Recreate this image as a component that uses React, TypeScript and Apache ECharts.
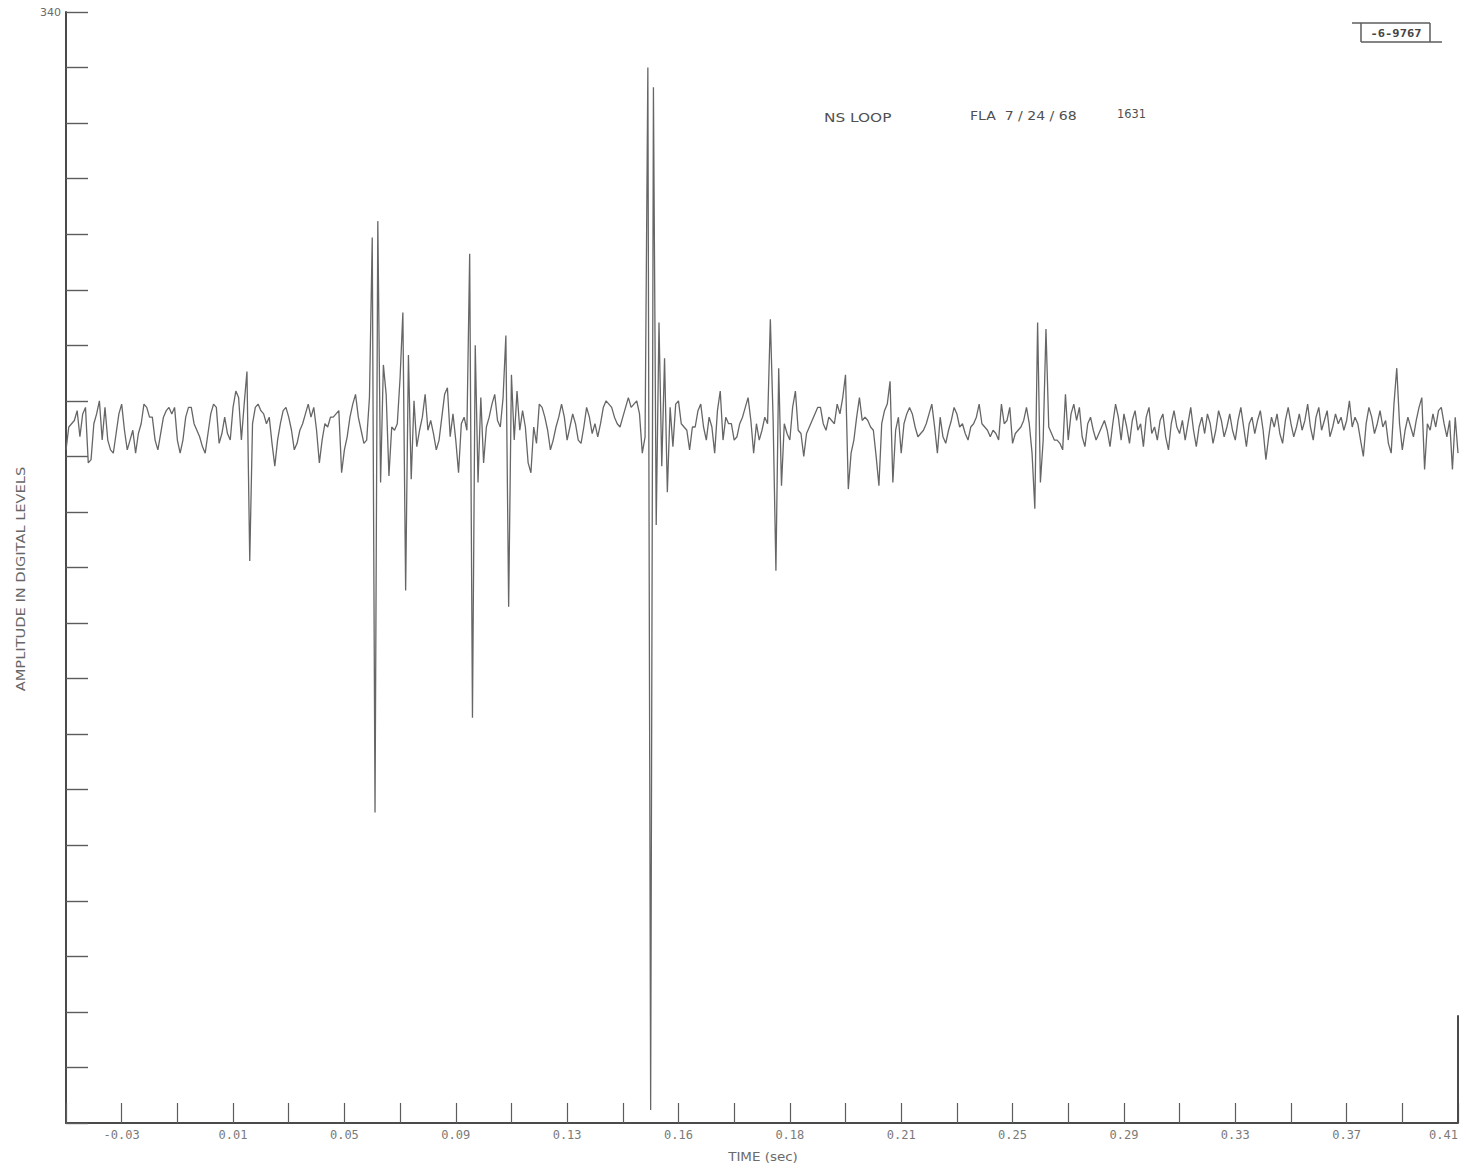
import { useEffect, useRef } from "react";
import * as echarts from "echarts";

const samplesPerTick = 20;
const tickIntervals = 25;

// Printed time labels, one on every other x tick starting at tick 1.
const xTickLabels = [
  "-0.03", "0.01", "0.05", "0.09", "0.13", "0.16", "0.18",
  "0.21", "0.25", "0.29", "0.33", "0.37", "0.41",
];

// Amplitude scale in digital levels.
const yMin = 0;
const yMax = 340;
const yStep = 17;

// Amplitude in digital levels, one row per tick interval.
const amplitude = [
  206, 213, 214, 215, 218, 210, 217, 219, 202, 203, 214, 217, 221, 209, 219, 209, 206, 205, 211, 217,
  220, 212, 206, 209, 212, 205, 211, 214, 220, 219, 216, 216, 209, 206, 211, 216, 218, 219, 217, 219,
  209, 205, 209, 216, 219, 219, 214, 212, 210, 207, 205, 211, 217, 220, 219, 208, 211, 216, 211, 209,
  219, 224, 222, 209, 220, 230, 172, 214, 219, 220, 218, 217, 214, 216, 208, 201, 209, 214, 218, 219,
  216, 212, 206, 208, 212, 214, 217, 220, 216, 219, 212, 202, 209, 214, 213, 216, 216, 217, 218, 199,
  206, 210, 216, 220, 223, 216, 212, 208, 209, 222, 271, 95, 276, 196, 232, 223, 198, 213, 212, 214,
  228, 248, 163, 235, 197, 221, 207, 212, 216, 223, 212, 215, 211, 206, 209, 216, 223, 225, 210, 217,
  209, 199, 214, 216, 212, 266, 124, 238, 196, 222, 202, 213, 216, 220, 223, 215, 213, 222, 241, 158,
  229, 209, 224, 212, 218, 213, 202, 199, 213, 208, 220, 219, 216, 212, 206, 209, 213, 216, 220, 216,
  209, 213, 217, 214, 209, 208, 213, 219, 216, 211, 214, 210, 214, 219, 221, 220, 219, 216, 214, 213,
  216, 219, 222, 219, 220, 221, 217, 205, 210, 323, 4, 317, 183, 245, 201, 234, 193, 219, 207, 220,
  221, 214, 213, 212, 206, 213, 213, 218, 220, 213, 209, 216, 213, 205, 218, 224, 209, 216, 214, 214,
  209, 210, 214, 216, 219, 222, 215, 205, 214, 209, 212, 216, 214, 246, 215, 169, 231, 195, 214, 211,
  209, 219, 224, 212, 211, 204, 211, 213, 215, 217, 219, 219, 214, 212, 216, 215, 214, 220, 217, 222,
  229, 194, 205, 209, 216, 222, 215, 216, 215, 213, 212, 204, 195, 214, 218, 220, 227, 196, 212, 216,
  205, 214, 217, 219, 217, 213, 210, 211, 212, 214, 217, 220, 213, 205, 216, 210, 208, 212, 215, 219,
  217, 213, 214, 211, 209, 213, 214, 216, 220, 214, 213, 212, 210, 212, 211, 209, 220, 214, 215, 219,
  208, 211, 212, 213, 215, 219, 214, 205, 188, 245, 196, 209, 243, 213, 211, 209, 209, 208, 206, 223,
  209, 217, 220, 215, 219, 210, 207, 214, 216, 212, 209, 211, 213, 215, 212, 207, 214, 220, 216, 209,
  217, 213, 208, 215, 218, 212, 214, 207, 216, 219, 211, 213, 209, 215, 217, 210, 206, 214, 218, 213,
  211, 215, 209, 214, 219, 212, 207, 213, 216, 211, 217, 214, 208, 212, 218, 215, 210, 213, 217, 212,
  209, 215, 219, 213, 207, 214, 216, 211, 215, 218, 212, 203, 210, 216, 213, 217, 211, 208, 215, 219,
  214, 210, 213, 217, 212, 215, 220, 213, 209, 216, 219, 212, 215, 218, 210, 213, 217, 214, 216, 212,
  215, 221, 213, 216, 214, 209, 204, 214, 219, 216, 211, 214, 218, 213, 215, 208, 205, 220, 231, 214,
  206, 212, 216, 213, 210, 215, 219, 222, 200, 214, 212, 217, 213, 218, 219, 214, 210, 215, 200, 216,
  205,
];

// End-of-record stub drawn at the last sample, height in digital levels.
const endStubLevels = 33;

const inkDark = "#4a4a4a";
const inkMid = "#5c5c5c";
const inkLight = "#7a7a7a";

export default function App() {
  const ref = useRef<HTMLDivElement>(null);

  useEffect(() => {
    if (!ref.current) return;
    const chart = echarts.init(ref.current, null, { renderer: "svg" });
    const lastSample = samplesPerTick * tickIntervals;
    const data = amplitude.map((v, i) => [i, v]);

    chart.setOption({
      animation: false,
      backgroundColor: "#ffffff",
      grid: {
        left: 66,
        right: 7,
        top: 12,
        bottom: 45,
        containLabel: false,
        outerBoundsMode: "none",
      },
      xAxis: {
        type: "value",
        min: 0,
        max: lastSample,
        interval: samplesPerTick,
        axisLine: { show: true, onZero: false, lineStyle: { color: inkDark, width: 2 } },
        axisTick: { show: true, inside: true, length: 20, lineStyle: { color: inkMid, width: 1.2 } },
        axisLabel: {
          show: true,
          margin: 6,
          color: inkLight,
          fontFamily: "DejaVu Sans Mono",
          fontSize: 12,
          showMinLabel: true,
          showMaxLabel: true,
          alignMaxLabel: "right",
          hideOverlap: false,
          formatter: (value: number) => {
            const t = Math.round(value / samplesPerTick);
            return t % 2 === 1 ? xTickLabels[(t - 1) / 2] ?? "" : "";
          },
        },
        splitLine: { show: false },
      },
      yAxis: {
        type: "value",
        min: yMin,
        max: yMax,
        interval: yStep,
        axisLine: { show: true, onZero: false, lineStyle: { color: inkDark, width: 2 } },
        axisTick: { show: true, inside: true, length: 22, lineStyle: { color: inkMid, width: 1.4 } },
        axisLabel: {
          show: true,
          margin: 5,
          color: "#6b6b6b",
          fontFamily: "DejaVu Sans",
          fontSize: 11,
          showMaxLabel: true,
          padding: [6, 0, 0, 0],
          formatter: (value: number) => (value === yMax ? String(yMax) : ""),
        },
        splitLine: { show: false },
      },
      series: [
        {
          type: "line",
          data,
          symbol: "none",
          showSymbol: false,
          smooth: false,
          lineStyle: { color: "#666666", width: 1.3 },
          markLine: {
            silent: true,
            symbol: "none",
            label: { show: false },
            lineStyle: { color: inkDark, width: 2, type: "solid" },
            data: [[{ coord: [lastSample, yMin] }, { coord: [lastSample, endStubLevels] }]],
          },
        },
      ],
      graphic: [
        {
          type: "text",
          x: 824,
          y: 117,
          style: {
            text: "NS LOOP",
            font: '13px "DejaVu Sans"',
            fill: "#505050",
            align: "left",
            verticalAlign: "middle",
            textAlign: "left",
            textVerticalAlign: "middle",
          },
          scaleX: 1.18,
        },
        {
          type: "text",
          x: 970,
          y: 115,
          style: {
            text: "FLA  7 / 24 / 68",
            font: '13px "DejaVu Sans"',
            fill: "#505050",
            align: "left",
            verticalAlign: "middle",
            textAlign: "left",
            textVerticalAlign: "middle",
          },
          scaleX: 1.08,
        },
        {
          type: "text",
          x: 1117,
          y: 114,
          style: {
            text: "1631",
            font: '12px "DejaVu Sans"',
            fill: "#505050",
            align: "left",
            verticalAlign: "middle",
            textAlign: "left",
            textVerticalAlign: "middle",
          },
          scaleX: 0.95,
        },
        {
          type: "text",
          x: 21,
          y: 579,
          rotation: Math.PI / 2,
          scaleX: 1.22,
          style: {
            text: "AMPLITUDE IN DIGITAL LEVELS",
            font: '12px "DejaVu Sans"',
            fill: "#666666",
            align: "center",
            verticalAlign: "middle",
            textAlign: "center",
            textVerticalAlign: "middle",
          },
        },
        {
          type: "text",
          x: 763,
          y: 1157,
          scaleX: 1.12,
          style: {
            text: "TIME (sec)",
            font: '12px "DejaVu Sans"',
            fill: "#6a6a6a",
            align: "center",
            verticalAlign: "middle",
            textAlign: "center",
            textVerticalAlign: "middle",
          },
        },
        // Frame number box in the upper right corner
        {
          type: "group",
          children: [
            { type: "line", shape: { x1: 1352, y1: 23, x2: 1430, y2: 23 }, style: { stroke: inkMid, lineWidth: 1.5 } },
            { type: "line", shape: { x1: 1361, y1: 23, x2: 1361, y2: 42 }, style: { stroke: inkMid, lineWidth: 1.5 } },
            { type: "line", shape: { x1: 1430, y1: 23, x2: 1430, y2: 42 }, style: { stroke: inkMid, lineWidth: 1.5 } },
            { type: "line", shape: { x1: 1361, y1: 42, x2: 1442, y2: 42 }, style: { stroke: inkMid, lineWidth: 1.5 } },
            {
              type: "text",
              x: 1396,
              y: 33,
              style: {
                text: "-6-9767",
                font: 'bold 11px "DejaVu Sans Mono"',
                fill: "#444444",
                align: "center",
                verticalAlign: "middle",
                textAlign: "center",
                textVerticalAlign: "middle",
              },
              scaleX: 1.1,
            },
          ],
        },
      ],
    });

    return () => chart.dispose();
  }, []);

  return (
    <div
      ref={ref}
      style={{ position: "fixed", left: 0, top: 0, width: 1465, height: 1168, background: "#ffffff" }}
    />
  );
}
